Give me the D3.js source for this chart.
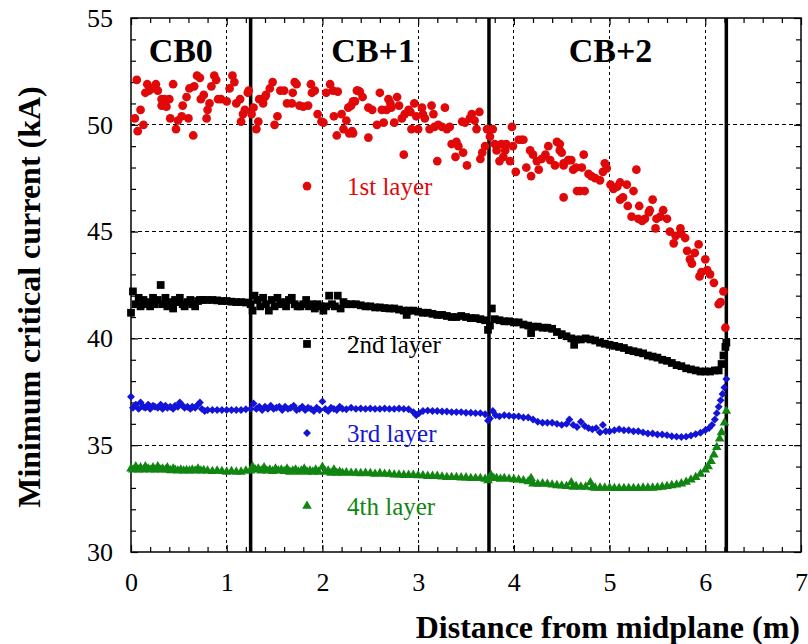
<!DOCTYPE html>
<html><head><meta charset="utf-8">
<script src="https://cdn.jsdelivr.net/npm/d3@7"></script>
<style>
html,body{margin:0;padding:0;background:#fff;}
text{font-family:"Liberation Serif","Times New Roman",serif;}
</style></head>
<body><svg id="c" width="808" height="644"></svg>
<script>
// ---------------- DATA ----------------
const xTicks = [0,1,2,3,4,5,6,7];
const yTicks = [30,35,40,45,50,55];
const segmentBounds = [1.25, 3.74, 6.22];
const segmentLabels = [["CB0",0.52],["CB+1",2.53],["CB+2",5.01]];
const seriesNames = ["1st layer","2nd layer","3rd layer","4th layer"];
const seriesColors = ["#e00808","#000000","#1414d8","#118511"];
const legendY = [47.13, 39.74, 35.57, 32.15];

const layer1 = [
[0.06,52.1],[0.04,50.3],[0.07,49.7],[0.10,50.7],[0.13,50.0],[0.15,51.5],[0.17,51.9],[0.19,51.6],[0.22,51.7],[0.26,51.9],[0.28,51.6],[0.32,51.2],[0.32,50.9],[0.35,51.2],[0.37,50.85],[0.40,51.2],[0.41,50.3],[0.44,51.9],[0.47,49.8],[0.49,50.2],[0.53,50.4],[0.54,50.9],[0.58,51.3],[0.60,50.3],[0.61,51.7],[0.65,49.5],[0.66,51.8],[0.69,52.3],[0.72,52.2],[0.73,51.2],[0.76,51.4],[0.79,50.3],[0.80,50.7],[0.82,51.0],[0.84,51.8],[0.87,52.3],[0.89,52.1],[0.91,51.2],[0.94,51.2],[1.00,51.1],[1.03,51.7],[1.06,52.3],[1.08,52.0],[1.10,51.0],[1.14,51.2],[1.15,50.15],[1.17,50.5],[1.19,50.7],[1.22,51.5],[1.23,51.6],[1.26,50.5],[1.28,50.8],[1.31,49.8],[1.33,50.15],[1.34,51.2],[1.38,51.0],[1.40,51.3],[1.41,51.4],[1.45,51.7],[1.48,52.0],[1.50,50.0],[1.53,50.4],[1.56,51.6],[1.60,51.6],[1.63,51.0],[1.68,51.0],[1.69,51.5],[1.71,52.0],[1.73,51.9],[1.76,50.9],[1.80,50.85],[1.85,50.9],[1.88,51.9],[1.89,51.5],[1.92,51.6],[1.95,50.5],[1.99,50.15],[2.01,50.1],[2.04,51.5],[2.08,51.9],[2.11,51.6],[2.12,50.4],[2.15,49.5],[2.16,51.55],[2.20,50.5],[2.22,49.8],[2.25,50.2],[2.27,50.8],[2.28,49.6],[2.30,50.9],[2.32,49.6],[2.34,51.1],[2.37,51.6],
[2.32,51.1],[2.31,49.7],[2.36,51.6],[2.39,51.55],[2.42,51.3],[2.48,50.8],[2.48,49.4],[2.52,50.7],[2.57,50.0],[2.60,51.5],[2.62,50.7],[2.64,50.1],[2.67,50.7],[2.69,51.2],[2.71,51.0],[2.72,50.8],[2.75,50.1],[2.78,51.3],[2.80,50.9],[2.83,50.3],[2.85,48.6],[2.86,50.5],[2.90,50.7],[2.92,50.6],[2.93,49.8],[2.96,51.0],[2.98,50.4],[3.00,49.8],[3.04,50.8],[3.05,50.5],[3.07,50.3],[3.12,49.8],[3.14,50.9],[3.16,50.5],[3.17,49.9],[3.20,48.3],[3.21,50.0],[3.25,49.9],[3.28,50.8],[3.30,49.8],[3.33,49.9],[3.35,49.1],[3.39,48.5],[3.40,49.2],[3.42,49.0],[3.46,50.15],[3.47,48.7],[3.49,50.1],[3.51,48.1],[3.54,50.3],[3.56,50.5],[3.59,50.2],[3.61,49.8],[3.64,50.6],[3.65,48.4],[3.67,48.7],[3.70,49.0],[3.72,49.8],[3.75,49.45],[3.78,49.8],[3.80,49.1],[3.82,48.8],[3.85,48.3],[3.87,49.1],[3.89,48.5],[3.91,48.8],[3.92,49.1],[3.96,48.3],[3.98,49.9],[3.99,49.0],[4.02,47.8],[4.05,49.3],[4.08,49.3],[4.10,49.3],[4.13,48.0],[4.17,48.8],[4.18,47.6],[4.20,48.6],[4.24,48.3],[4.26,47.9],[4.29,48.4],[4.33,48.6],[4.36,49.0],[4.38,48.35],[4.43,48.1],[4.45,49.2],[4.48,48.8],[4.52,48.1],[4.57,48.35],[4.60,48.35],[4.65,48.0],
[4.48,49.1],[4.50,48.7],[4.52,48.2],[4.52,46.6],[4.57,48.35],[4.62,47.9],[4.66,46.9],[4.69,46.9],[4.71,48.0],[4.73,48.6],[4.74,46.9],[4.78,47.7],[4.81,47.6],[4.85,47.5],[4.90,47.4],[4.93,47.8],[4.95,48.2],[4.97,47.96],[5.01,47.2],[5.04,47.0],[5.08,47.1],[5.11,47.3],[5.11,46.5],[5.14,46.6],[5.18,47.2],[5.19,46.2],[5.23,45.7],[5.25,46.9],[5.28,47.9],[5.30,45.6],[5.31,46.2],[5.34,45.5],[5.37,45.6],[5.41,45.9],[5.42,46.0],[5.45,46.5],[5.48,45.15],[5.49,45.6],[5.53,45.7],[5.56,46.0],[5.60,45.6],[5.63,45.0],[5.67,44.45],[5.69,44.8],[5.74,45.15],[5.75,44.9],[5.79,44.7],[5.81,44.1],[5.84,43.7],[5.86,43.5],[5.89,44.0],[5.93,44.4],[5.94,42.9],[5.96,43.1],[6.00,43.7],[6.02,43.2],[6.05,43.0],[6.09,42.6],[6.14,41.6],[6.16,41.7],[6.19,42.2],[6.21,40.5]
];

const layer2 = [
[0.00,41.2],[0.02,42.2],[0.05,41.6],[0.08,41.9],[0.10,41.5],[0.13,41.8],[0.15,41.6],[0.18,41.7],[0.20,41.5],[0.23,41.9],[0.25,41.6],[0.28,41.8],[0.31,42.5],[0.33,41.6],[0.36,41.9],[0.38,41.5],[0.41,41.7],[0.44,41.4],[0.46,41.8],[0.49,41.7],[0.51,41.9],[0.54,41.6],[0.56,41.5],[0.59,41.7],[0.62,41.8],[0.64,41.6],[0.67,41.5],[0.70,41.75],[0.72,41.8],[0.75,41.8],[0.80,41.8],[0.85,41.8],[0.90,41.78],[0.95,41.75],[1.00,41.75],[1.05,41.72],[1.10,41.7],[1.15,41.7],[1.20,41.68],[1.25,41.6],[1.27,41.3],[1.29,42.0],[1.32,41.8],[1.35,41.5],[1.38,41.9],[1.41,41.6],[1.44,41.3],[1.47,41.8],[1.50,41.5],[1.53,41.9],[1.56,41.6],[1.59,41.7],[1.62,41.5],[1.65,41.8],[1.68,41.9],[1.71,41.6],[1.74,41.5],[1.77,41.5],[1.80,41.6],[1.83,41.8],[1.86,41.5],[1.89,41.6],[1.92,41.4],[1.95,41.6],[1.98,41.5],[2.01,41.3],[2.04,41.5],[2.07,42.0],[2.10,41.6],[2.13,41.5],[2.16,42.0],[2.19,41.4],[2.22,41.7],[2.25,41.6],[2.30,41.6],[2.35,41.6],[2.40,41.55],[2.45,41.5],[2.50,41.5],[2.55,41.45],[2.60,41.45],[2.65,41.42],[2.70,41.4],[2.75,41.4],[2.80,41.35],[2.85,41.3],[2.88,41.1],[2.90,41.3],[2.95,41.3],[3.00,41.25],[3.05,41.2],[3.10,41.2],[3.15,41.15],[3.20,41.1],[3.25,41.1],[3.30,41.05],[3.35,41.0],[3.40,41.0],[3.45,41.05],[3.50,41.0],[3.55,40.95],[3.60,40.95],[3.65,40.9],[3.70,40.85],[3.73,40.4],[3.75,40.6],[3.77,41.4],[3.80,40.9],[3.85,40.85],[3.90,40.8],[3.95,40.8],[4.00,40.75],[4.05,40.75],[4.10,40.65],[4.15,40.6],[4.18,40.25],[4.20,40.55],[4.25,40.55],[4.30,40.5],[4.35,40.5],[4.40,40.45],[4.45,40.3],[4.50,40.2],[4.55,40.1],[4.60,40.0],[4.63,39.7],[4.65,39.95],[4.70,39.95],[4.75,40.0],[4.80,39.95],[4.85,39.9],[4.90,39.8],[4.95,39.75],[5.00,39.7],[5.05,39.65],[5.10,39.6],[5.15,39.55],[5.20,39.45],[5.25,39.4],[5.30,39.35],[5.35,39.3],[5.40,39.2],[5.45,39.15],[5.50,39.1],[5.55,39.0],[5.60,38.95],[5.65,38.85],[5.70,38.75],[5.75,38.7],[5.80,38.6],[5.85,38.55],[5.90,38.5],[5.95,38.45],[6.00,38.45],[6.05,38.45],[6.10,38.5],[6.14,38.5],[6.17,38.8],[6.19,39.2],[6.21,39.6],[6.22,39.8]
];

const layer3 = [
[0.00,37.27],[0.02,36.75],[0.05,36.9],[0.08,36.7],[0.10,37.0],[0.13,36.8],[0.15,36.75],[0.18,36.9],[0.20,36.7],[0.23,36.85],[0.25,36.8],[0.28,36.75],[0.31,36.9],[0.33,36.7],[0.36,36.85],[0.38,36.75],[0.41,36.8],[0.44,36.7],[0.46,36.85],[0.49,36.8],[0.51,37.0],[0.54,36.85],[0.56,36.75],[0.59,36.8],[0.62,36.7],[0.64,36.8],[0.67,36.75],[0.70,36.9],[0.72,37.0],[0.74,36.7],[0.77,36.6],[0.80,36.65],[0.85,36.65],[0.90,36.65],[0.95,36.65],[1.00,36.65],[1.05,36.65],[1.10,36.65],[1.15,36.65],[1.20,36.68],[1.25,36.7],[1.28,36.95],[1.31,36.7],[1.34,36.8],[1.37,36.65],[1.40,36.8],[1.43,36.7],[1.46,36.85],[1.49,36.7],[1.52,36.75],[1.55,36.8],[1.58,36.65],[1.61,36.8],[1.64,36.7],[1.67,36.75],[1.70,36.85],[1.73,36.65],[1.76,36.7],[1.79,36.8],[1.82,36.65],[1.85,36.75],[1.88,36.7],[1.91,36.6],[1.94,36.75],[1.97,36.65],[2.00,37.05],[2.03,36.7],[2.06,36.6],[2.09,36.75],[2.12,36.7],[2.15,36.65],[2.18,36.8],[2.21,36.7],[2.25,36.68],[2.30,36.75],[2.35,36.7],[2.40,36.72],[2.45,36.7],[2.50,36.72],[2.55,36.7],[2.60,36.7],[2.65,36.72],[2.70,36.7],[2.75,36.7],[2.80,36.72],[2.85,36.7],[2.90,36.68],[2.95,36.55],[2.98,36.4],[3.01,36.5],[3.05,36.6],[3.10,36.62],[3.15,36.6],[3.20,36.6],[3.25,36.58],[3.30,36.58],[3.35,36.55],[3.40,36.55],[3.45,36.55],[3.50,36.52],[3.55,36.52],[3.60,36.5],[3.65,36.5],[3.70,36.45],[3.73,36.15],[3.75,36.25],[3.78,36.6],[3.81,36.4],[3.85,36.35],[3.90,36.4],[3.95,36.38],[4.00,36.35],[4.05,36.35],[4.10,36.3],[4.15,36.3],[4.20,36.2],[4.25,36.1],[4.30,36.05],[4.35,36.05],[4.40,36.05],[4.45,36.0],[4.50,35.95],[4.55,36.0],[4.58,36.2],[4.62,35.95],[4.66,35.85],[4.70,36.1],[4.74,35.9],[4.78,35.8],[4.82,35.75],[4.86,35.8],[4.90,35.6],[4.93,35.95],[4.96,35.65],[5.00,35.65],[5.05,35.7],[5.10,35.75],[5.15,35.7],[5.20,35.7],[5.25,35.65],[5.30,35.65],[5.35,35.6],[5.40,35.55],[5.45,35.55],[5.50,35.5],[5.55,35.5],[5.60,35.47],[5.65,35.42],[5.70,35.4],[5.75,35.38],[5.80,35.4],[5.85,35.45],[5.90,35.52],[5.95,35.58],[6.00,35.7],[6.04,35.8],[6.07,35.95],[6.10,36.2],[6.12,36.5],[6.14,36.8],[6.16,37.1],[6.18,37.4],[6.20,37.7],[6.22,38.1]
];

const layer4 = [
[0.00,33.9],[0.02,33.85],[0.05,34.0],[0.08,33.85],[0.10,33.95],[0.13,33.85],[0.15,34.0],[0.18,33.9],[0.20,33.85],[0.23,33.95],[0.25,33.85],[0.28,34.0],[0.31,33.85],[0.33,33.9],[0.36,33.85],[0.38,33.95],[0.41,33.82],[0.44,33.9],[0.46,33.85],[0.49,33.8],[0.52,33.85],[0.55,33.8],[0.58,33.82],[0.61,33.8],[0.64,33.85],[0.67,33.8],[0.70,33.9],[0.73,33.8],[0.76,33.82],[0.80,33.8],[0.85,33.78],[0.90,33.8],[0.95,33.78],[1.00,33.75],[1.05,33.78],[1.10,33.75],[1.15,33.75],[1.20,33.8],[1.25,33.8],[1.27,34.0],[1.30,33.85],[1.33,33.9],[1.36,33.8],[1.39,33.95],[1.42,33.8],[1.45,33.85],[1.48,33.78],[1.51,33.9],[1.54,33.8],[1.57,33.85],[1.60,33.78],[1.63,33.9],[1.66,33.75],[1.69,33.8],[1.72,33.85],[1.75,33.75],[1.78,33.8],[1.81,33.9],[1.84,33.75],[1.87,33.8],[1.90,33.75],[1.93,33.85],[1.96,33.75],[2.00,33.98],[2.03,33.75],[2.06,33.8],[2.09,33.7],[2.12,33.85],[2.15,33.7],[2.18,33.75],[2.21,33.7],[2.25,33.72],[2.30,33.7],[2.35,33.7],[2.40,33.68],[2.45,33.7],[2.50,33.68],[2.55,33.65],[2.60,33.68],[2.65,33.65],[2.70,33.65],[2.75,33.62],[2.80,33.62],[2.85,33.6],[2.90,33.6],[2.95,33.6],[3.00,33.58],[3.05,33.58],[3.10,33.55],[3.15,33.55],[3.20,33.55],[3.25,33.52],[3.30,33.5],[3.35,33.5],[3.40,33.5],[3.45,33.48],[3.50,33.48],[3.55,33.45],[3.60,33.45],[3.65,33.45],[3.70,33.42],[3.73,33.35],[3.76,33.6],[3.79,33.45],[3.82,33.45],[3.86,33.42],[3.90,33.45],[3.95,33.42],[4.00,33.4],[4.05,33.38],[4.10,33.35],[4.15,33.3],[4.18,33.45],[4.20,33.2],[4.25,33.18],[4.30,33.2],[4.35,33.18],[4.40,33.15],[4.45,33.12],[4.50,33.1],[4.55,33.08],[4.60,33.25],[4.62,33.05],[4.65,33.08],[4.70,33.05],[4.75,33.05],[4.80,33.25],[4.82,33.02],[4.85,33.0],[4.90,33.0],[4.95,33.0],[5.00,33.0],[5.05,32.98],[5.10,32.98],[5.15,32.98],[5.20,32.98],[5.25,32.98],[5.30,32.98],[5.35,33.0],[5.40,33.0],[5.45,33.0],[5.50,33.02],[5.55,33.05],[5.60,33.08],[5.65,33.12],[5.70,33.15],[5.75,33.2],[5.80,33.28],[5.85,33.38],[5.90,33.5],[5.95,33.65],[6.00,33.85],[6.03,34.0],[6.06,34.25],[6.09,34.55],[6.12,34.9],[6.15,35.3],[6.17,35.6],[6.20,36.05],[6.22,36.6]
];

// ---------------- CHART ----------------
const svg = d3.select("#c");
const L = 131, R = 801, T = 18, B = 552;
const x = d3.scaleLinear().domain([0,7]).range([L,R]);
const y = d3.scaleLinear().domain([30,55]).range([B,T]);

// grid
const grid = svg.append("g").attr("stroke","#000").attr("stroke-width",1).attr("fill","none");
grid.selectAll(".gx").data(xTicks.slice(1,-1)).join("line")
  .attr("x1",d=>x(d)).attr("x2",d=>x(d)).attr("y1",T).attr("y2",B)
  .attr("stroke-dasharray","3,3").attr("shape-rendering","crispEdges");
grid.selectAll(".gy").data(yTicks.slice(1,-1)).join("line")
  .attr("y1",d=>y(d)).attr("y2",d=>y(d)).attr("x1",L).attr("x2",R)
  .attr("stroke-dasharray","4,3").attr("shape-rendering","crispEdges");

// segment boundaries
svg.append("g").selectAll("line").data(segmentBounds).join("line")
  .attr("x1",d=>x(d)).attr("x2",d=>x(d)).attr("y1",T).attr("y2",B)
  .attr("stroke","#000").attr("stroke-width",3.5);

// axes with inside ticks
const xMinor = d3.range(0,7.001,0.2).filter(v=>Math.abs(v-Math.round(v))>1e-6);
const yMinor = d3.range(30,55.001,1).filter(v=>v%5!==0);
function styleAxis(g){ g.select(".domain").remove(); g.selectAll("line").attr("stroke","#000").attr("stroke-width",1.2); }
svg.append("g").attr("transform",`translate(0,${B})`).call(d3.axisBottom(x).tickValues(xTicks).tickSize(-7).tickFormat(d=>d).tickPadding(21))
  .call(styleAxis).selectAll("text").attr("font-size",26).attr("fill","#000");
svg.append("g").attr("transform",`translate(0,${B})`).call(d3.axisBottom(x).tickValues(xMinor).tickSize(-5).tickFormat(""))
  .call(styleAxis);
svg.append("g").attr("transform",`translate(0,${T})`).call(d3.axisTop(x).tickValues(xTicks).tickSize(-7).tickFormat(""))
  .call(styleAxis);
svg.append("g").attr("transform",`translate(0,${T})`).call(d3.axisTop(x).tickValues(xMinor).tickSize(-5).tickFormat(""))
  .call(styleAxis);
svg.append("g").attr("transform",`translate(${L},0)`).call(d3.axisLeft(y).tickValues(yTicks).tickSize(-7).tickFormat(d=>d).tickPadding(18))
  .call(styleAxis).selectAll("text").attr("font-size",26).attr("fill","#000");
svg.append("g").attr("transform",`translate(${L},0)`).call(d3.axisLeft(y).tickValues(yMinor).tickSize(-5).tickFormat(""))
  .call(styleAxis);
svg.append("g").attr("transform",`translate(${R},0)`).call(d3.axisRight(y).tickValues(yTicks).tickSize(-7).tickFormat(""))
  .call(styleAxis);
svg.append("g").attr("transform",`translate(${R},0)`).call(d3.axisRight(y).tickValues(yMinor).tickSize(-5).tickFormat(""))
  .call(styleAxis);

// frame
svg.append("rect").attr("x",L).attr("y",T).attr("width",R-L).attr("height",B-T)
  .attr("fill","none").attr("stroke","#000").attr("stroke-width",1.5);

// segment labels
svg.append("g").selectAll("text").data(segmentLabels).join("text")
  .attr("x",d=>x(d[1])).attr("y",62).attr("text-anchor","middle")
  .attr("font-size",34).attr("font-weight","bold").attr("fill","#000").text(d=>d[0]);

// data
const symbols = [d3.symbol().type(d3.symbolCircle).size(60),
                 d3.symbol().type(d3.symbolSquare).size(60),
                 d3.symbol().type(d3.symbolDiamond2).size(40),
                 d3.symbol().type(d3.symbolTriangle).size(40)];
const layers = [layer1, layer2, layer3, layer4];
layers.forEach((data,i)=>{
  svg.append("g").attr("fill",seriesColors[i]).selectAll("path").data(data).join("path")
    .attr("transform",d=>`translate(${x(d[0])},${y(d[1])})`).attr("d",symbols[i]());
});

// legend
const lg = svg.append("g");
seriesNames.forEach((n,i)=>{
  lg.append("path").attr("transform",`translate(307,${y(legendY[i])})`).attr("d",symbols[i]()).attr("fill",seriesColors[i]);
  lg.append("text").attr("x",347).attr("y",y(legendY[i])+9).attr("font-size",25).attr("fill",seriesColors[i]).text(n);
});

// axis titles
svg.append("text").attr("x",800).attr("y",638).attr("text-anchor","end")
  .attr("font-size",32).attr("font-weight","bold").attr("fill","#000").text("Distance from midplane (m)");
svg.append("text").attr("transform","translate(40,297) rotate(-90)").attr("text-anchor","middle")
  .attr("font-size",32).attr("font-weight","bold").attr("fill","#000").text("Minimum critical current (kA)");
</script></body></html>
